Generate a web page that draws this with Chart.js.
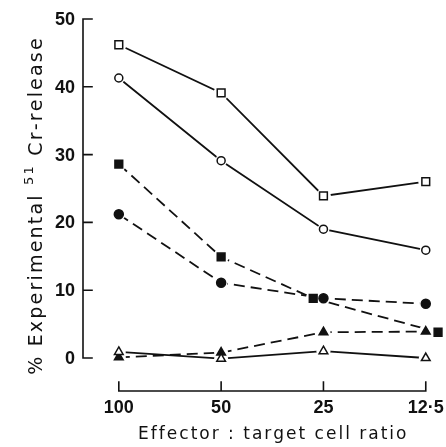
<!DOCTYPE html>
<html>
<head>
<meta charset="utf-8">
<script src="https://cdn.jsdelivr.net/npm/chart.js@4/dist/chart.umd.min.js"></script>
<style>
  html, body { margin: 0; padding: 0; background: #fff; }
  canvas { display: block; }
</style>
</head>
<body>
<canvas id="chart" width="446" height="447"></canvas>
<script>
// effector : target ratios (equally spaced on the plot)
var ratioLabels = ['100', '50', '25', '12\u00b75'];
var yTicks = [0, 10, 20, 30, 40, 50];

// % experimental 51Cr-release
var openSquare     = [46.2, 39.1, 23.9, 26.0];
var openCircle     = [41.3, 29.1, 19.0, 15.9];
var filledSquare   = [28.6, 14.9, 8.8, 3.8];
var filledCircle   = [21.2, 11.1, 8.8, 8.0];
var filledTriangle = [0.1, 0.8, 3.8, 3.9];
var openTriangle   = [0.9, -0.1, 1.0, 0.0];

// the filled squares were drawn slightly to the side where they collide
var filledSquareDodge = [0, 0, -0.1, 0.12];

var INK = '#111';
var TICK_FONT = 'bold 18px "Liberation Sans", Arial, sans-serif';
var TITLE_FONT = '"DejaVu Sans", sans-serif';

function pts(vals, dodge) {
    return vals.map(function (v, i) {
        return { x: i + (dodge ? dodge[i] : 0), y: v };
    });
}

function series(vals, style, filled, dashed, radius, dodge) {
    return {
        data: pts(vals, dodge),
        borderColor: INK,
        borderWidth: 1.8,
        borderDash: dashed ? [11, 6] : [],
        pointStyle: style,
        pointRadius: radius,
        pointBackgroundColor: filled ? INK : '#fff',
        pointBorderColor: INK,
        pointBorderWidth: 1.5,
        tension: 0,
        fill: false,
        clip: false
    };
}

// draw text letter by letter with extra tracking, returns the advance
function spaced(ctx, text, x, y, track, measureOnly) {
    var w = 0;
    for (var i = 0; i < text.length; i++) {
        var cw = ctx.measureText(text[i]).width;
        if (!measureOnly) ctx.fillText(text[i], x + w, y);
        w += cw + track;
    }
    return w;
}

// axes, labels and titles drawn against the chart's own scales
var axesPlugin = {
    id: 'oldAxes',
    beforeDatasetsDraw: function (chart) {
        var ctx = chart.ctx;
        var xs = chart.scales.x, ys = chart.scales.y;
        var axisX = chart.chartArea.left;
        ctx.save();
        ctx.strokeStyle = INK;
        ctx.fillStyle = INK;
        ctx.lineWidth = 1.6;
        ctx.lineCap = 'square';

        // y axis with inward ticks
        ctx.beginPath();
        ctx.moveTo(axisX, ys.getPixelForValue(yTicks[yTicks.length - 1]));
        ctx.lineTo(axisX, ys.getPixelForValue(yTicks[0]));
        yTicks.forEach(function (t) {
            var py = ys.getPixelForValue(t);
            ctx.moveTo(axisX, py);
            ctx.lineTo(axisX + 9, py);
        });
        ctx.stroke();

        ctx.font = TICK_FONT;
        ctx.textAlign = 'right';
        ctx.textBaseline = 'middle';
        yTicks.forEach(function (t) {
            ctx.fillText(String(t), axisX - 8, ys.getPixelForValue(t) + 1);
        });

        // detached x axis with upward ticks
        var baseY = chart.chartArea.bottom + 33;
        ctx.beginPath();
        ctx.moveTo(xs.getPixelForValue(0), baseY);
        ctx.lineTo(xs.getPixelForValue(ratioLabels.length - 1), baseY);
        ratioLabels.forEach(function (lab, i) {
            var px = xs.getPixelForValue(i);
            ctx.moveTo(px, baseY);
            ctx.lineTo(px, baseY - 9);
        });
        ctx.stroke();

        ctx.textAlign = 'center';
        ratioLabels.forEach(function (lab, i) {
            ctx.fillText(lab, xs.getPixelForValue(i), baseY + 17);
        });

        // x title
        ctx.textAlign = 'left';
        ctx.textBaseline = 'alphabetic';
        ctx.font = '17px ' + TITLE_FONT;
        var xTitle = 'Effector : target cell ratio';
        var xw = spaced(ctx, xTitle, 0, 0, 2, true);
        var xmid = (xs.getPixelForValue(0) + xs.getPixelForValue(ratioLabels.length - 1)) / 2;
        spaced(ctx, xTitle, xmid - xw / 2 + 1, baseY + 48, 2);

        // y title, rotated, with superscript mass number
        var parts = [
            { t: '% Experimental ', size: 19, rise: 0 },
            { t: '51', size: 13, rise: 9 },
            { t: ' Cr-release', size: 19, rise: 0 }
        ];
        var total = 0;
        parts.forEach(function (p) {
            ctx.font = p.size + 'px ' + TITLE_FONT;
            p.w = spaced(ctx, p.t, 0, 0, 2.2, true);
            total += p.w;
        });
        ctx.translate(42, (chart.chartArea.top + chart.chartArea.bottom) / 2 + 17);
        ctx.rotate(-Math.PI / 2);
        var cx = -total / 2;
        parts.forEach(function (p) {
            ctx.font = p.size + 'px ' + TITLE_FONT;
            spaced(ctx, p.t, cx, -p.rise, 2.2);
            cx += p.w;
        });
        ctx.restore();
    },
    // white halo round each marker so the lines stop just short of it
    afterDatasetsDraw: function (chart) {
        var ctx = chart.ctx;
        chart.data.datasets.forEach(function (ds, di) {
            chart.getDatasetMeta(di).data.forEach(function (el) {
                ctx.save();
                ctx.fillStyle = '#fff';
                ctx.beginPath();
                ctx.arc(el.x, el.y, ds.pointRadius + 2, 0, Math.PI * 2);
                ctx.fill();
                ctx.restore();
            });
        });
        chart.data.datasets.forEach(function (ds, di) {
            chart.getDatasetMeta(di).data.forEach(function (el) {
                el.draw(ctx, chart.chartArea);
            });
        });
    }
};

new Chart(document.getElementById('chart'), {
    type: 'line',
    data: {
        datasets: [
            series(openSquare, 'rect', false, false, 5.5),
            series(openCircle, 'circle', false, false, 4),
            series(filledSquare, 'rect', true, true, 5.5, filledSquareDodge),
            series(filledCircle, 'circle', true, true, 4.5),
            series(filledTriangle, 'triangle', true, true, 5),
            series(openTriangle, 'triangle', false, false, 5)
        ]
    },
    options: {
        responsive: false,
        devicePixelRatio: 1,
        animation: false,
        layout: { padding: { left: 83, top: 19, right: 10, bottom: 89 } },
        plugins: { legend: { display: false }, tooltip: { enabled: false } },
        scales: {
            x: { type: 'linear', display: false, min: -0.35, max: 3.1 },
            y: { type: 'linear', display: false, min: 0, max: 50 }
        }
    },
    plugins: [axesPlugin]
});
</script>
</body>
</html>
